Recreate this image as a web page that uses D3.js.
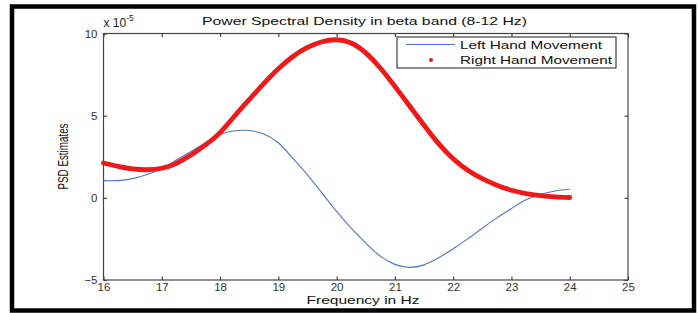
<!DOCTYPE html>
<html><head><meta charset="utf-8">
<script src="https://cdn.jsdelivr.net/npm/d3@7"></script>
<style>
body{margin:0;background:#fff;}
svg{display:block;font-family:"Liberation Sans",Arial,sans-serif;}
</style></head>
<body><svg id="c" width="699" height="313"></svg>
<script>
const freq = [16,16.25,16.5,16.75,17,17.25,17.5,17.75,18,18.25,18.5,18.75,19,19.25,19.5,19.75,20,20.25,20.5,20.75,21,21.25,21.5,21.75,22,22.25,22.5,22.75,23,23.25,23.5,23.75,24];
const rightHand = [2.12,1.92,1.76,1.71,1.80,2.10,2.60,3.22,3.97,4.98,5.98,6.95,7.85,8.6,9.15,9.5,9.62,9.42,8.82,7.9,6.78,5.6,4.42,3.3,2.38,1.68,1.17,0.77,0.46,0.26,0.14,0.06,0.02];
const leftHand = [1.05,1.05,1.17,1.42,1.78,2.30,2.82,3.35,3.85,4.08,4.10,3.88,3.35,2.40,1.40,0.29,-0.83,-1.85,-2.75,-3.55,-4.05,-4.23,-4.08,-3.65,-3.10,-2.50,-1.85,-1.22,-0.65,-0.12,0.22,0.42,0.52];
const xTicks = [16,17,18,19,20,21,22,23,24,25];
const yTicks = [-5,0,5,10];
const seriesNames = ["Left Hand Movement","Right Hand Movement"];
const title = "Power Spectral Density in beta band (8-12 Hz)";
const xLabel = "Frequency in Hz";
const yLabel = "PSD Estimates";

const svg = d3.select("#c");
const L=103.5, R=628, T=33.5, B=280;
const x = d3.scaleLinear().domain([16,25]).range([L,R]);
const y = d3.scaleLinear().domain([-5,10]).range([B,T]);
const axisCol = "#444";

// outer frame
svg.append("rect").attr("x",12).attr("y",6.5).attr("width",682).attr("height",304)
  .attr("fill","none").attr("stroke","#000").attr("stroke-width",4.5);

// axes box
svg.append("rect").attr("x",L).attr("y",T).attr("width",R-L).attr("height",B-T)
  .attr("fill","none").attr("stroke",axisCol).attr("stroke-width",1.2);

const tickLen = 3.5;
const gx = svg.append("g").attr("transform",`translate(0,${B})`)
  .call(d3.axisBottom(x).tickValues(xTicks).tickSize(-tickLen).tickPadding(3).tickFormat(d3.format("d")));
const gxt = svg.append("g").attr("transform",`translate(0,${T})`)
  .call(d3.axisTop(x).tickValues(xTicks).tickSize(-tickLen).tickFormat(""));
const gy = svg.append("g").attr("transform",`translate(${L},0)`)
  .call(d3.axisLeft(y).tickValues(yTicks).tickSize(-tickLen).tickPadding(6).tickFormat(d3.format("d")));
const gyr = svg.append("g").attr("transform",`translate(${R},0)`)
  .call(d3.axisRight(y).tickValues(yTicks).tickSize(-tickLen).tickFormat(""));
[gx,gxt,gy,gyr].forEach(g=>{
  g.select(".domain").remove();
  g.selectAll("line").attr("stroke",axisCol).attr("stroke-width",1.2);
  g.selectAll("text").attr("fill","#333").style("font-size","11.5px").style("font-family","'Liberation Sans',Arial,sans-serif");
});

// exponent label
const ex = svg.append("text").attr("x",L).attr("y",26.5).attr("fill","#222").style("font-size","12px");
ex.append("tspan").text("x 10");
ex.append("tspan").attr("dy",-6).style("font-size","8.5px").text("-5");

// title
svg.append("text").attr("x",364.5).attr("y",25).attr("text-anchor","middle")
  .attr("fill","#111").style("font-size","11.5px")
  .attr("textLength",325).attr("lengthAdjust","spacingAndGlyphs").text(title);

// x label
svg.append("text").attr("x",363).attr("y",303.5).attr("text-anchor","middle")
  .attr("fill","#111").style("font-size","11.5px")
  .attr("textLength",113).attr("lengthAdjust","spacingAndGlyphs").text(xLabel);

// y label
svg.append("text").attr("transform",`translate(67.5,156.5) rotate(-90)`).attr("text-anchor","middle")
  .attr("fill","#111").style("font-size","14px")
  .attr("textLength",66).attr("lengthAdjust","spacingAndGlyphs").text(yLabel);

// lines
const line = (vals)=>d3.line().x((d,i)=>x(freq[i])).y(d=>y(d)).curve(d3.curveNatural)(vals);
svg.append("path").attr("d",line(leftHand)).attr("fill","none").attr("stroke","#5573cc").attr("stroke-width",1.1);
svg.append("path").attr("d",line(rightHand)).attr("fill","none").attr("stroke","#f01818").attr("stroke-width",4.8).attr("stroke-linecap","round");

// legend
svg.append("rect").attr("x",397).attr("y",37).attr("width",219).attr("height",31)
  .attr("fill","#fff").attr("stroke",axisCol).attr("stroke-width",1.2);
svg.append("line").attr("x1",406).attr("x2",455).attr("y1",44.5).attr("y2",44.5).attr("stroke","#5573cc").attr("stroke-width",1.1);
svg.append("circle").attr("cx",431).attr("cy",60).attr("r",2).attr("fill","#f01818");
svg.append("text").attr("x",460).attr("y",48.5).attr("fill","#111").style("font-size","11.5px")
  .attr("textLength",142).attr("lengthAdjust","spacingAndGlyphs").text(seriesNames[0]);
svg.append("text").attr("x",460).attr("y",63.5).attr("fill","#111").style("font-size","11.5px")
  .attr("textLength",152).attr("lengthAdjust","spacingAndGlyphs").text(seriesNames[1]);
</script></body></html>
